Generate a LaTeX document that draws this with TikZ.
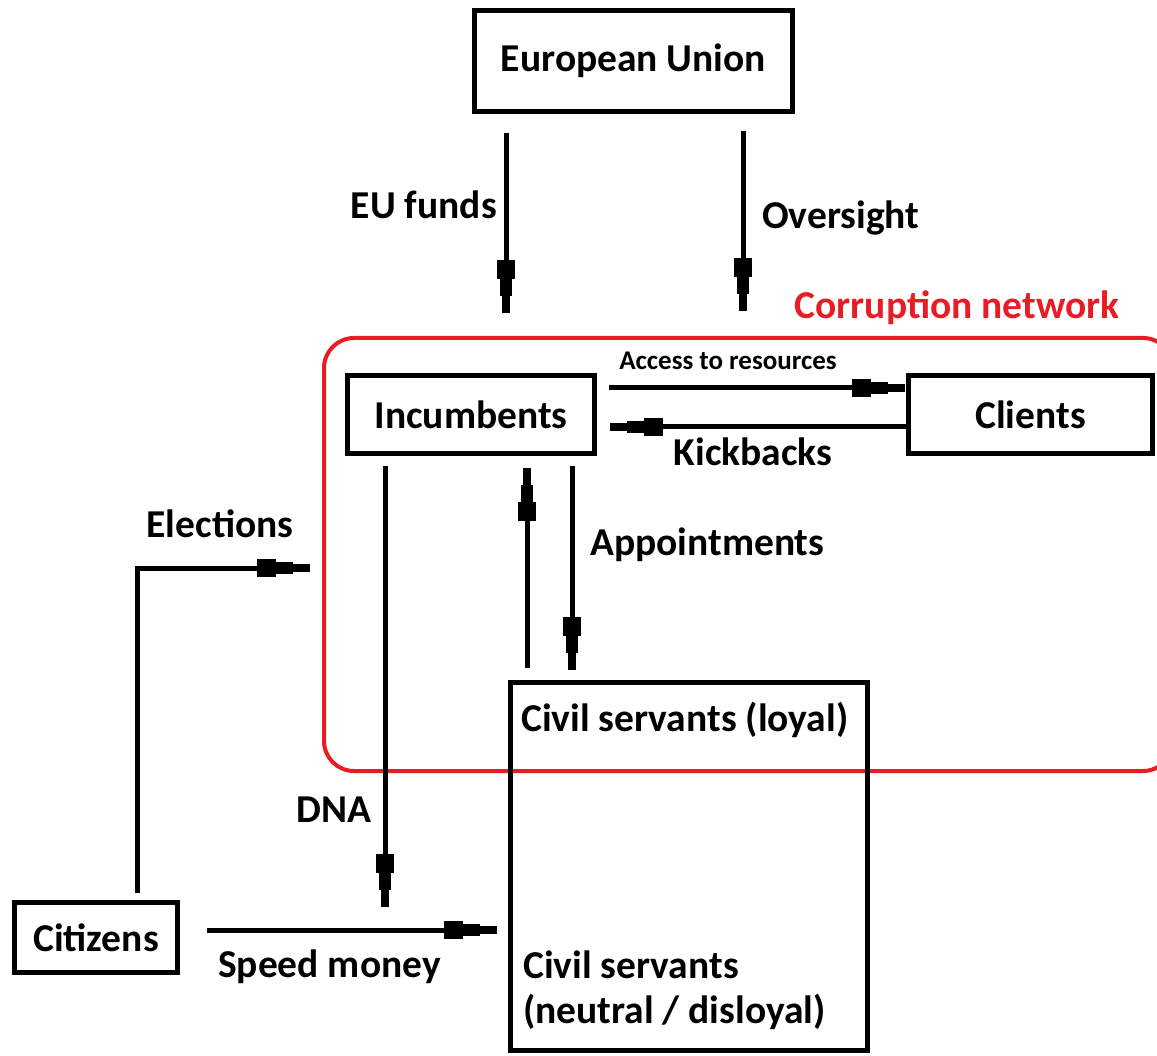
\documentclass[tikz,border=0pt]{standalone}
\usepackage{fontspec}
\setmainfont{Carlito}[BoldFont={Carlito Bold}]
\usetikzlibrary{arrows.meta}
\definecolor{netred}{RGB}{232,28,36}
\begin{document}
\begin{tikzpicture}[x=1pt,y=-1pt,
  font=\bfseries\fontsize{39.5}{46}\selectfont,
  box/.style={draw,line width=5pt,inner sep=0pt,anchor=center},
  txt/.style={inner sep=0pt,text=black},
  paint/.tip={Rectangle[length=19pt,width=18pt] Rectangle[length=17pt,width=12pt] Rectangle[length=17pt,width=8pt]},
  arr/.style={line width=5pt,-{paint}},
  wire/.style={line width=5pt}]
\useasboundingbox (0,0) rectangle (1157,1056);

% corruption network frame
\node[draw=netred,line width=4pt,rounded corners=30pt,minimum width=849pt,minimum height=433pt,inner sep=0pt] (net) at (748.5,554.5) {};
\node[txt,text=netred] (netlbl) at (957,308) {Corruption network};

% actors
\node[box,minimum width=318pt,minimum height=101pt] (eu) at (633.5,61) {European Union};
\node[box,minimum width=247pt,minimum height=78pt] (inc) at (471,414.5) {Incumbents};
\node[box,minimum width=244pt,minimum height=78pt] (cli) at (1030.5,414.5) {Clients};
\node[box,minimum width=163pt,minimum height=70pt] (cit) at (96,937.5) {Citizens};
\node[box,minimum width=357pt,minimum height=368pt] (cs) at (689,866.5) {};
\node[txt,anchor=west] (csl) at (521,720) {Civil servants (loyal)};
\node[txt,anchor=west] (csn1) at (523,965) {Civil servants};
\node[txt,anchor=west] (csn2) at (523,1012) {(neutral / disloyal)};

% flows from the EU
\draw[arr,shorten <=19pt,shorten >=23pt] (eu.south -| 506,0) -- (net.north -| 506,0);
\draw[arr,shorten <=17pt,shorten >=25pt] (eu.south -| 743,0) -- (net.north -| 743,0);
\node[txt,anchor=east] (fundslbl) at (497,205) {EU funds};
\node[txt,anchor=west] (overlbl) at (762,218) {Oversight};

% incumbents and clients
\draw[arr,shorten <=12pt,shorten >=1pt] (inc.east |- 0,388) -- (cli.west |- 0,388);
\draw[arr,shorten >=13pt] (cli.west |- 0,427) -- (inc.east |- 0,427);
\node[txt,font=\bfseries\fontsize{27}{32}\selectfont] (acclbl) at (728,361) {Access to resources};
\node[txt] (kicklbl) at (753,452) {Kickbacks};

% incumbents and civil servants
\draw[arr,shorten <=12pt,shorten >=12pt] (cs.north -| 527,0) -- (inc.south -| 527,0);
\draw[arr,shorten <=10pt,shorten >=10pt] (inc.south -| 572,0) -- (cs.north -| 572,0);
\node[txt,anchor=west] (applbl) at (590,545) {Appointments};

% anti-corruption directorate
\coordinate (dnaend) at (385,907);
\draw[arr,shorten <=10pt] (inc.south -| 385,0) -- (dnaend);
\node[txt] (dnalbl) at (334,810) {DNA};

% citizens
\draw[arr,shorten <=7pt,shorten >=12pt] (cit.north -| 137,0) |- (net.west |- 0,568);
\node[txt] (electlbl) at (220,524) {Elections};
\draw[arr,shorten <=27pt,shorten >=11pt] (cit.east |- 0,930) -- (cs.west |- 0,930);
\node[txt,anchor=west] (speedlbl) at (218,967) {Speed money};
\end{tikzpicture}
\end{document}
